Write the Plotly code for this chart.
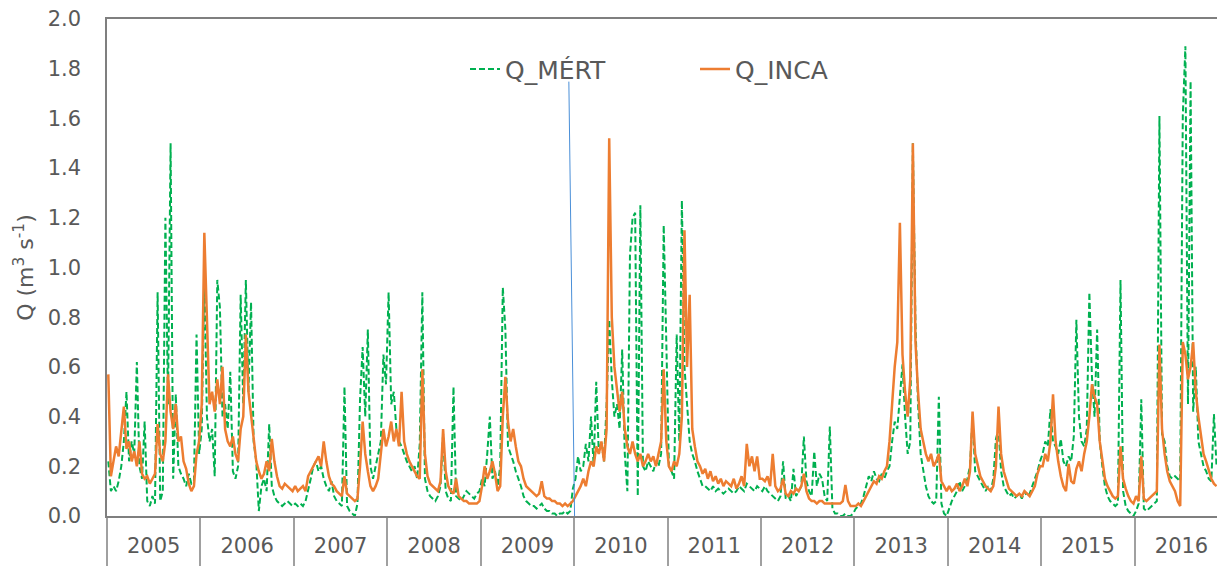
import plotly.graph_objects as go

# Discharge series, 36 ten-day steps per year (m3/s)
YEARS = [2005, 2006, 2007, 2008, 2009, 2010, 2011, 2012, 2013, 2014, 2015, 2016]
STEPS_PER_YEAR = 36

mert_2005 = [0.22, 0.10, 0.12, 0.10, 0.14, 0.20, 0.30, 0.50, 0.22, 0.30, 0.25, 0.62, 0.20, 0.15, 0.38, 0.06, 0.04, 0.08,
             0.05, 0.90, 0.06, 0.10, 1.20, 0.45, 1.50, 0.15, 0.49, 0.20, 0.17, 0.15, 0.12, 0.17, 0.13, 0.14, 0.73, 0.25]
inca_2005 = [0.57, 0.16, 0.22, 0.28, 0.24, 0.33, 0.44, 0.27, 0.30, 0.22, 0.26, 0.20, 0.30, 0.17, 0.15, 0.16, 0.13, 0.15,
             0.17, 0.37, 0.25, 0.22, 0.30, 0.57, 0.42, 0.35, 0.45, 0.30, 0.32, 0.22, 0.19, 0.13, 0.10, 0.12, 0.25, 0.30]

mert_2006 = [0.35, 0.97, 0.40, 0.30, 0.35, 0.16, 0.95, 0.84, 0.40, 0.45, 0.35, 0.58, 0.18, 0.15, 0.20, 0.89, 0.45, 0.95,
             0.50, 0.86, 0.30, 0.22, 0.02, 0.12, 0.15, 0.10, 0.37, 0.12, 0.08, 0.06, 0.05, 0.04, 0.05, 0.06, 0.05, 0.04]
inca_2006 = [0.45, 1.14, 0.75, 0.45, 0.50, 0.42, 0.55, 0.45, 0.60, 0.35, 0.30, 0.28, 0.32, 0.25, 0.22, 0.35, 0.40, 0.73,
             0.50, 0.40, 0.30, 0.22, 0.18, 0.15, 0.17, 0.22, 0.18, 0.31, 0.22, 0.16, 0.12, 0.11, 0.13, 0.12, 0.11, 0.10]

mert_2007 = [0.05, 0.04, 0.05, 0.04, 0.06, 0.10, 0.15, 0.20, 0.22, 0.18, 0.20, 0.15, 0.12, 0.10, 0.14, 0.08, 0.06, 0.05,
             0.04, 0.52, 0.04, 0.02, 0.01, 0.00, 0.05, 0.47, 0.68, 0.40, 0.75, 0.20, 0.15, 0.20, 0.25, 0.30, 0.65, 0.53]
inca_2007 = [0.12, 0.10, 0.11, 0.12, 0.10, 0.16, 0.18, 0.20, 0.22, 0.24, 0.20, 0.30, 0.22, 0.16, 0.13, 0.12, 0.10, 0.09,
             0.08, 0.16, 0.09, 0.08, 0.07, 0.06, 0.07, 0.20, 0.38, 0.25, 0.18, 0.12, 0.10, 0.12, 0.15, 0.25, 0.35, 0.28]

mert_2008 = [0.90, 0.45, 0.50, 0.35, 0.30, 0.28, 0.25, 0.22, 0.20, 0.18, 0.20, 0.15, 0.29, 0.90, 0.15, 0.10, 0.08, 0.07,
             0.06, 0.08, 0.12, 0.33, 0.10, 0.07, 0.06, 0.52, 0.08, 0.07, 0.06, 0.08, 0.10, 0.09, 0.08, 0.07, 0.09, 0.10]
inca_2008 = [0.32, 0.38, 0.30, 0.35, 0.28, 0.50, 0.30, 0.25, 0.22, 0.20, 0.18, 0.16, 0.15, 0.59, 0.25, 0.16, 0.13, 0.12,
             0.11, 0.10, 0.14, 0.35, 0.18, 0.12, 0.10, 0.09, 0.15, 0.08, 0.07, 0.06, 0.06, 0.05, 0.05, 0.05, 0.05, 0.06]

mert_2009 = [0.15, 0.12, 0.25, 0.40, 0.15, 0.18, 0.12, 0.20, 0.92, 0.75, 0.28, 0.25, 0.22, 0.18, 0.15, 0.12, 0.08, 0.06,
             0.05, 0.04, 0.04, 0.03, 0.04, 0.05, 0.03, 0.02, 0.02, 0.01, 0.01, 0.00, 0.01, 0.01, 0.02, 0.01, 0.02, 0.11]
inca_2009 = [0.12, 0.20, 0.15, 0.18, 0.22, 0.17, 0.10, 0.12, 0.40, 0.56, 0.38, 0.30, 0.35, 0.28, 0.22, 0.20, 0.15, 0.12,
             0.11, 0.10, 0.09, 0.08, 0.09, 0.14, 0.08, 0.07, 0.07, 0.06, 0.06, 0.05, 0.05, 0.04, 0.05, 0.04, 0.05, 0.06]

mert_2010 = [0.15, 0.24, 0.18, 0.20, 0.29, 0.22, 0.40, 0.20, 0.54, 0.25, 0.30, 0.22, 0.45, 0.79, 0.55, 0.40, 0.45, 0.35,
             0.67, 0.25, 0.10, 1.05, 1.20, 1.22, 0.08, 1.25, 0.20, 0.18, 0.22, 0.20, 0.18, 0.22, 0.20, 0.25, 1.17, 0.70]
inca_2010 = [0.08, 0.10, 0.12, 0.15, 0.12, 0.18, 0.22, 0.20, 0.28, 0.25, 0.30, 0.22, 0.35, 1.52, 0.80, 0.60, 0.50, 0.42,
             0.50, 0.35, 0.28, 0.25, 0.30, 0.25, 0.22, 0.25, 0.20, 0.22, 0.25, 0.22, 0.24, 0.20, 0.25, 0.30, 0.59, 0.30]

mert_2011 = [0.20, 0.18, 0.15, 0.73, 0.30, 1.27, 0.60, 0.45, 0.30, 0.25, 0.22, 0.18, 0.15, 0.12, 0.12, 0.11, 0.10, 0.12,
             0.10, 0.11, 0.10, 0.09, 0.10, 0.11, 0.10, 0.09, 0.10, 0.12, 0.11, 0.10, 0.13, 0.12, 0.11, 0.10, 0.12, 0.11]
inca_2011 = [0.20, 0.18, 0.22, 0.20, 0.25, 0.40, 1.15, 0.60, 0.89, 0.35, 0.28, 0.22, 0.20, 0.17, 0.19, 0.15, 0.18, 0.14,
             0.16, 0.13, 0.15, 0.12, 0.14, 0.13, 0.12, 0.15, 0.11, 0.13, 0.16, 0.12, 0.29, 0.20, 0.24, 0.18, 0.24, 0.15]

mert_2012 = [0.10, 0.12, 0.10, 0.09, 0.08, 0.07, 0.06, 0.08, 0.22, 0.07, 0.08, 0.06, 0.19, 0.08, 0.10, 0.12, 0.32, 0.14,
             0.10, 0.08, 0.26, 0.12, 0.17, 0.15, 0.08, 0.06, 0.36, 0.03, 0.01, 0.01, 0.00, 0.00, 0.01, 0.00, 0.00, 0.01]
inca_2012 = [0.15, 0.14, 0.16, 0.12, 0.25, 0.12, 0.10, 0.11, 0.15, 0.09, 0.08, 0.10, 0.09, 0.11, 0.10, 0.12, 0.17, 0.10,
             0.07, 0.06, 0.06, 0.05, 0.06, 0.06, 0.05, 0.05, 0.05, 0.05, 0.05, 0.05, 0.05, 0.06, 0.125, 0.06, 0.04, 0.04]

mert_2013 = [0.03, 0.04, 0.05, 0.08, 0.12, 0.16, 0.14, 0.18, 0.15, 0.14, 0.17, 0.15, 0.18, 0.20, 0.30, 0.38, 0.35, 0.50,
             0.61, 0.40, 0.25, 0.30, 1.50, 0.77, 0.45, 0.25, 0.18, 0.12, 0.08, 0.06, 0.05, 0.06, 0.48, 0.05, 0.01, 0.00]
inca_2013 = [0.04, 0.05, 0.04, 0.06, 0.08, 0.10, 0.12, 0.14, 0.13, 0.16, 0.15, 0.18, 0.20, 0.30, 0.45, 0.60, 0.70, 1.18,
             0.65, 0.50, 0.40, 0.55, 1.50, 0.70, 0.50, 0.35, 0.30, 0.25, 0.22, 0.25, 0.20, 0.22, 0.25, 0.14, 0.12, 0.10]

mert_2014 = [0.03, 0.06, 0.08, 0.10, 0.14, 0.10, 0.12, 0.15, 0.20, 0.40, 0.18, 0.16, 0.14, 0.12, 0.10, 0.12, 0.10, 0.15,
             0.31, 0.35, 0.18, 0.12, 0.10, 0.08, 0.09, 0.07, 0.08, 0.09, 0.07, 0.10, 0.08, 0.09, 0.12, 0.15, 0.18, 0.22]
inca_2014 = [0.12, 0.10, 0.11, 0.13, 0.10, 0.12, 0.15, 0.12, 0.18, 0.42, 0.25, 0.20, 0.16, 0.14, 0.12, 0.11, 0.10, 0.12,
             0.20, 0.44, 0.25, 0.18, 0.14, 0.11, 0.10, 0.09, 0.08, 0.09, 0.08, 0.10, 0.09, 0.08, 0.10, 0.12, 0.17, 0.20]

mert_2015 = [0.25, 0.30, 0.28, 0.43, 0.30, 0.28, 0.25, 0.31, 0.22, 0.20, 0.24, 0.22, 0.32, 0.79, 0.40, 0.30, 0.28, 0.35,
             0.90, 0.56, 0.40, 0.75, 0.30, 0.20, 0.12, 0.08, 0.06, 0.05, 0.04, 0.05, 0.95, 0.10, 0.04, 0.02, 0.01, 0.00]
inca_2015 = [0.20, 0.25, 0.22, 0.30, 0.49, 0.30, 0.22, 0.16, 0.12, 0.10, 0.21, 0.14, 0.13, 0.19, 0.22, 0.18, 0.25, 0.30,
             0.40, 0.53, 0.48, 0.45, 0.30, 0.22, 0.15, 0.12, 0.10, 0.08, 0.07, 0.08, 0.28, 0.15, 0.11, 0.08, 0.06, 0.05]

mert_2016 = [0.02, 0.05, 0.47, 0.03, 0.02, 0.03, 0.04, 0.05, 0.06, 1.61, 0.33, 0.30, 0.20, 0.16, 0.15, 0.16, 0.15, 0.14,
             1.61, 1.89, 0.45, 1.75, 0.42, 0.60, 0.30, 0.25, 0.20, 0.18, 0.15, 0.14, 0.41, 0.20]
inca_2016 = [0.08, 0.06, 0.24, 0.07, 0.06, 0.07, 0.08, 0.09, 0.10, 0.69, 0.35, 0.25, 0.18, 0.14, 0.12, 0.10, 0.06, 0.04,
             0.70, 0.65, 0.55, 0.60, 0.70, 0.50, 0.40, 0.32, 0.25, 0.22, 0.18, 0.15, 0.13, 0.12]

MERT_BY_YEAR = [mert_2005, mert_2006, mert_2007, mert_2008, mert_2009, mert_2010,
                mert_2011, mert_2012, mert_2013, mert_2014, mert_2015, mert_2016]
INCA_BY_YEAR = [inca_2005, inca_2006, inca_2007, inca_2008, inca_2009, inca_2010,
                inca_2011, inca_2012, inca_2013, inca_2014, inca_2015, inca_2016]

YEAR_LABELS = [str(y) for y in YEARS]
X_END = 2016.88

# Manually drawn marker line on the chart: (x, y) at top and bottom
MARKER_TOP = (2009.943, 1.748)
MARKER_BOTTOM = (2010.004, 0.0)


def flatten(series_by_year):
    xs, ys = [], []
    for year, vals in zip(YEARS, series_by_year):
        for i, v in enumerate(vals):
            xs.append(year + (i + 0.5) / STEPS_PER_YEAR)
            ys.append(v)
    return xs, ys


x_mert, y_mert = flatten(MERT_BY_YEAR)
x_inca, y_inca = flatten(INCA_BY_YEAR)

GREEN = "#00B050"
ORANGE = "#ED7D31"
TEXT = "#595959"
FONT = "DejaVu Sans"

fig = go.Figure()
fig.add_trace(go.Scatter(
    x=x_mert, y=y_mert, mode="lines", name="Q_MÉRT",
    line=dict(color=GREEN, width=2, dash="6px,3px"),
))
fig.add_trace(go.Scatter(
    x=x_inca, y=y_inca, mode="lines", name="Q_INCA",
    line=dict(color=ORANGE, width=2.5),
))

fig.add_shape(
    type="line", xref="x", yref="y",
    x0=MARKER_BOTTOM[0], y0=MARKER_BOTTOM[1], x1=MARKER_TOP[0], y1=MARKER_TOP[1],
    line=dict(color="#4A8FD8", width=1),
)

fig.update_layout(
    width=1217, height=566,
    margin=dict(l=107, r=0, t=19, b=50),
    paper_bgcolor="white", plot_bgcolor="white",
    font=dict(family=FONT, color=TEXT, size=21),
    showlegend=True,
    legend=dict(
        orientation="h", x=(465 - 107) / 1110, xanchor="left",
        y=0.945, yanchor="top",
        font=dict(size=25, color=TEXT, family=FONT),
        bgcolor="rgba(0,0,0,0)", entrywidth=185,
        traceorder="normal",
    ),
    xaxis=dict(
        range=[2005, X_END],
        tickmode="array",
        tickvals=[y + 0.5 for y in YEARS],
        ticktext=YEAR_LABELS,
        ticks="outside", ticklen=10, tickcolor="rgba(0,0,0,0)",
        tickfont=dict(size=21, color=TEXT, family=FONT),
        showgrid=False, zeroline=False,
        showline=True, linecolor="#7F7F7F", linewidth=1.5, mirror=True,
        minor=dict(
            tickmode="array", tickvals=YEARS + [YEARS[-1] + 1],
            ticks="outside", ticklen=52, tickwidth=1.5, tickcolor="#A0A0A0",
            showgrid=False,
        ),
    ),
    yaxis=dict(
        range=[0, 2.0],
        tickmode="array",
        tickvals=[round(0.2 * k, 1) for k in range(11)],
        tickformat=".1f",
        ticks="outside", ticklen=20, tickcolor="rgba(0,0,0,0)",
        tickfont=dict(size=21, color=TEXT, family=FONT),
        showgrid=False, zeroline=False,
        showline=True, linecolor="#7F7F7F", linewidth=1.5,
        title=dict(text="Q (m<sup>3</sup> s<sup>-1</sup>)", font=dict(size=22, color=TEXT, family=FONT),
                   standoff=8),
        automargin=False,
    ),
)

fig.write_html("out.html")
